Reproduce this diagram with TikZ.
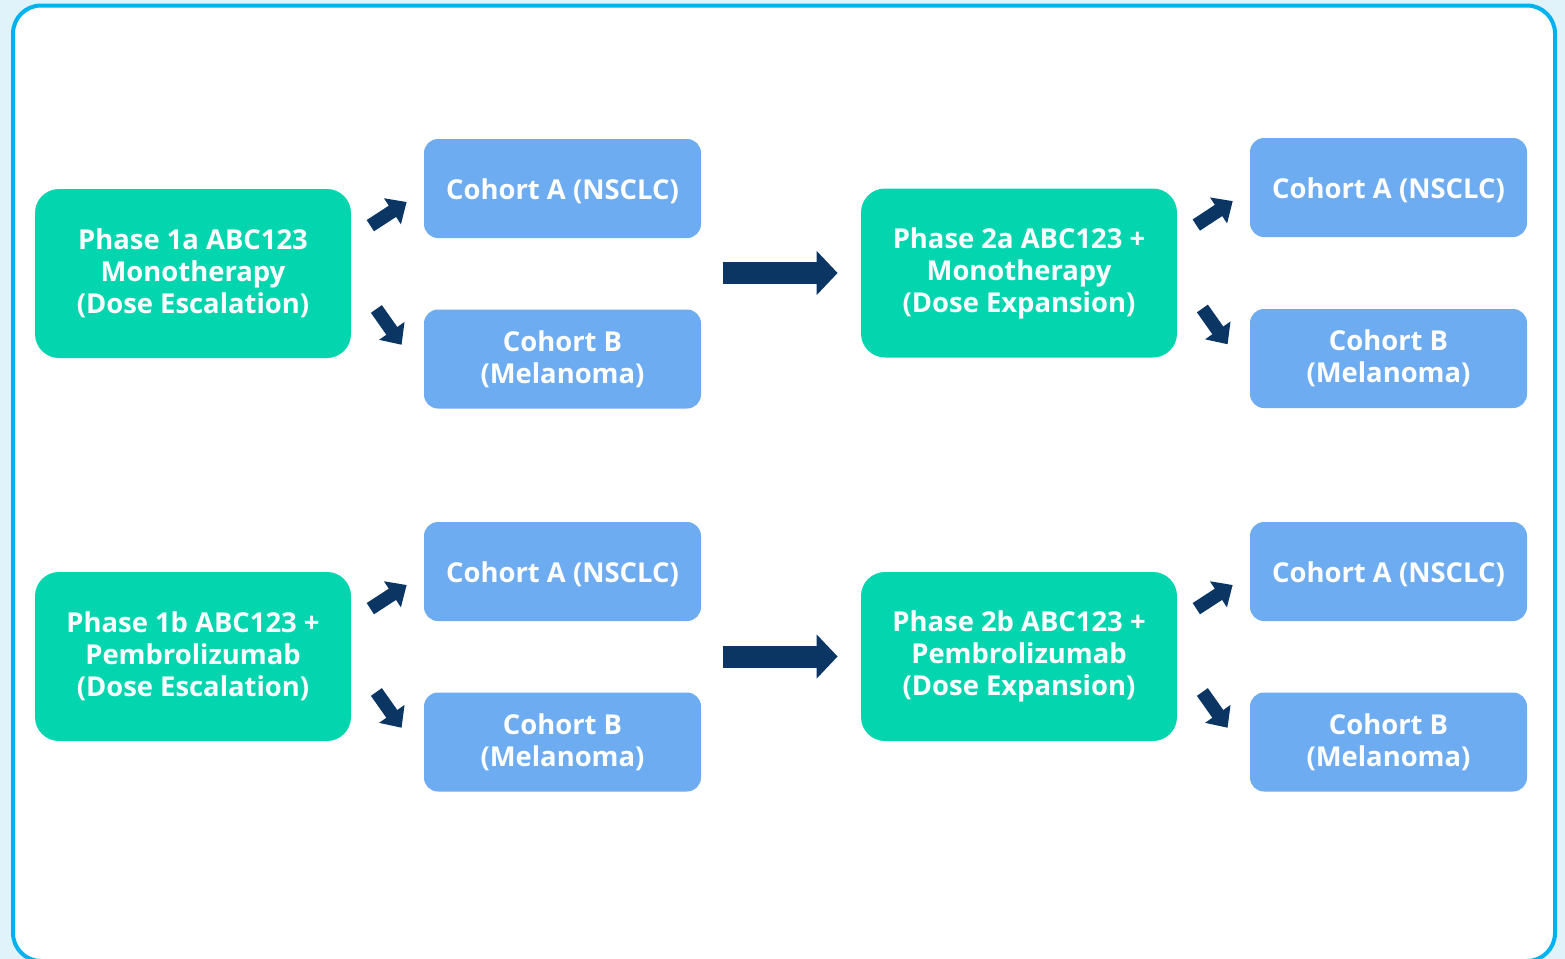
\documentclass[tikz,border=0pt]{standalone}
\usepackage{fontspec}
\setmainfont{Open Sans}
\usetikzlibrary{arrows.meta,positioning,calc}
\definecolor{phasegreen}{RGB}{3,214,174}
\definecolor{cohortblue}{RGB}{110,172,242}
\definecolor{arrownavy}{RGB}{11,54,100}
\definecolor{framecyan}{RGB}{0,178,240}
\definecolor{outerblue}{RGB}{224,242,250}

\tikzset{
  boxtext/.style={text=white,align=center,font=\bfseries\fontsize{13.7}{16}\selectfont,
    execute at begin node={\rule{0pt}{13.4pt}}},
  phase/.style={boxtext,rounded corners=12pt,fill=phasegreen,minimum width=158pt,minimum height=84.5pt},
  cohort/.style={boxtext,rounded corners=7pt,fill=cohortblue,minimum width=138.5pt,minimum height=49.5pt},
  smallarrow/.style={draw=arrownavy,line width=6.7pt,-{Triangle[length=8.5pt,width=15pt,fill=arrownavy]}},
  bigarrow/.style={draw=arrownavy,line width=11pt,-{Triangle[length=10.5pt,width=21.5pt,fill=arrownavy]}},
}

\begin{document}
\begin{tikzpicture}[x=0.5pt,y=-0.5pt]
\useasboundingbox (0,0) rectangle (1565,959);
\fill[outerblue] (0,0) rectangle (1565,959);
\draw[framecyan,line width=2pt,fill=white,rounded corners=14pt] (13,5.5) rectangle (1555,961);

% top row
\node[phase] (p1a) at (193,273.5) {Phase 1a ABC123\\Monotherapy\\(Dose Escalation)};
\node[cohort] (ca1) at (562.5,188.5) {Cohort A (NSCLC)};
\node[cohort] (cb1) at (562.5,359) {Cohort B\\(Melanoma)};
\node[phase] (p2a) at (1019,273) {Phase 2a ABC123 +\\Monotherapy\\(Dose Expansion)};
\node[cohort] (ca2) at (1388.5,187.5) {Cohort A (NSCLC)};
\node[cohort] (cb2) at (1388.5,358.5) {Cohort B\\(Melanoma)};

% bottom row
\node[phase] (p1b) at (193,656.5) {Phase 1b ABC123 +\\Pembrolizumab\\(Dose Escalation)};
\node[cohort] (ca3) at (562.5,571.5) {Cohort A (NSCLC)};
\node[cohort] (cb3) at (562.5,742) {Cohort B\\(Melanoma)};
\node[phase] (p2b) at (1019,656.5) {Phase 2b ABC123 +\\Pembrolizumab\\(Dose Expansion)};
\node[cohort] (ca4) at (1388.5,571.5) {Cohort A (NSCLC)};
\node[cohort] (cb4) at (1388.5,742) {Cohort B\\(Melanoma)};

% split arrows
\foreach \ph/\up/\dn in {p1a/ca1/cb1,p2a/ca2/cb2,p1b/ca3/cb3,p2b/ca4/cb4}{
  \draw[smallarrow,shorten <=11.3pt,shorten >=10.1pt] ($(\ph.east)+(0,-35.5)$) -- ($(\up.west)+(0,2.5)$);
  \draw[smallarrow,shorten <=21.7pt,shorten >=19.1pt] (\ph.east) -- ($(\dn.west)+(0,17)$);
}

% phase arrows
\draw[bigarrow,shorten <=11pt,shorten >=11.5pt] (ca1.east |- p2a.west) -- (p2a.west);
\draw[bigarrow,shorten <=11pt,shorten >=11.5pt] (ca3.east |- p2b.west) -- (p2b.west);
\end{tikzpicture}
\end{document}
